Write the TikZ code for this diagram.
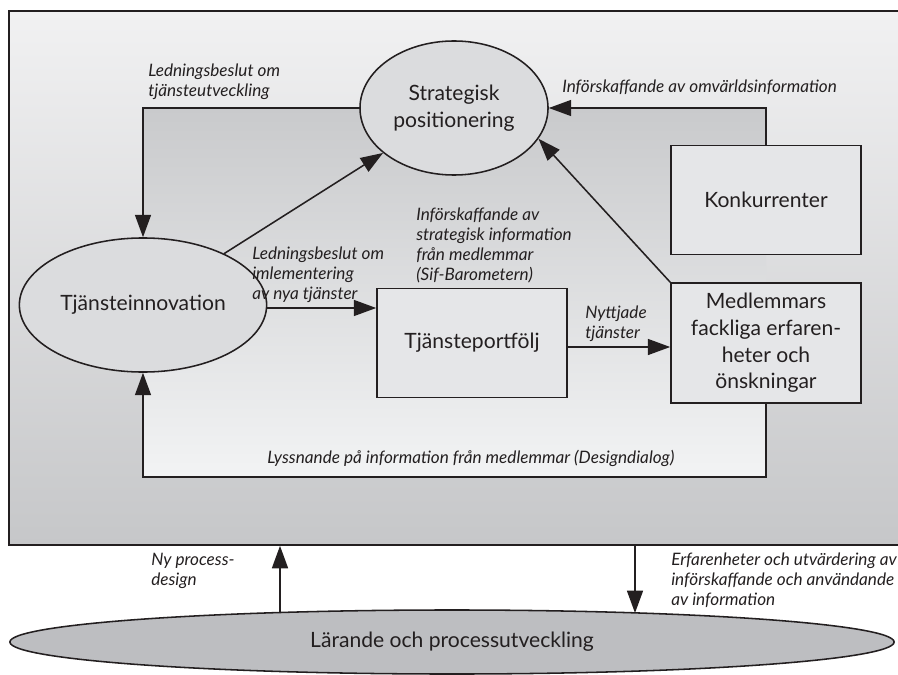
\documentclass[tikz,border=0pt]{standalone}
\usepackage{fontspec}
\setmainfont{Lato}
\usetikzlibrary{positioning, arrows.meta, backgrounds, calc, shapes.geometric}
\definecolor{frametop}{RGB}{241, 241, 242}
\definecolor{framebot}{RGB}{198, 199, 201}
\definecolor{looptop}{RGB}{201, 202, 204}
\definecolor{loopbot}{RGB}{242, 243, 244}
\definecolor{ellfill}{RGB}{219, 220, 222}
\definecolor{boxfill}{RGB}{229, 230, 232}
\definecolor{basefill}{RGB}{189, 190, 193}
\definecolor{ink}{RGB}{35, 31, 32}

\begin{document}
\begin{tikzpicture}[
    x=0.025cm, y=-0.025cm,
    >={Triangle[length=0.56cm, width=0.4cm]},
    % component styles
    procell/.style={ellipse, draw=ink, fill=ellfill, line width=1.1pt, minimum width=4.7cm, minimum height=3.35cm, align=center, text=ink, font=\fontsize{15}{19}\selectfont},
    procbox/.style={rectangle, draw=ink, fill=boxfill, line width=1.1pt, minimum width=4.75cm, minimum height=2.73cm, align=center, text=ink, font=\fontsize{15}{19}\selectfont},
    flowlabel/.style={anchor=north west, inner sep=0pt, align=left, text=ink, font=\itshape\fontsize{12.2}{14.2}\selectfont},
    arrow/.style={->, line width=1.1pt, draw=ink},
    line/.style={-, line width=1.1pt, draw=ink}
]

% loop edges of the inner cycle
\def\Lleft{143}
\def\Lright{766}
\def\Ltop{108}
\def\Lbot{476}

\useasboundingbox (0,0) rectangle (898,675);

% ==========================================
% 1. background frame and inner loop area
% ==========================================
\node[draw=ink, line width=1.1pt, top color=frametop, bottom color=framebot, minimum width=22.3cm, minimum height=13.35cm, inner sep=0pt] (frame) at (455,278) {};
\fill[top color=looptop, bottom color=loopbot] (\Lleft,\Ltop) rectangle (\Lright,\Lbot);

% ==========================================
% 2. main nodes
% ==========================================
\node[procell] (sp) at (454,\Ltop) {Strategisk\\positionering};
\node[procell] (ti) at (\Lleft,305) {Tjänsteinnovation};
\node[procbox] (tp) at (472,343) {Tjänsteportfölj};
\node[procbox] (kk) at (\Lright,200) {Konkurrenter};
\node[procbox, minimum height=3.0cm] (ml) at (\Lright,343) {Medlemmars\\fackliga erfaren-\\heter och\\önskningar};

% learning ellipse below the frame
\node[ellipse, draw=ink, line width=1.1pt, fill=basefill, minimum width=22.1cm, minimum height=1.6cm, text=ink, font=\fontsize{15}{19}\selectfont] (base) at (452,642) {Lärande och processutveckling};
\coordinate (npdfoot) at (280,612);
\coordinate (erfhead) at (635,613);

% ==========================================
% 3. connectors in the loop
% ==========================================
\draw[arrow] (sp.west) -| (ti.north);
\draw[arrow] (kk.north) |- (sp.east);
\draw[arrow] (ti) -- (sp);
\draw[arrow] (ml.north west) -- (sp.-20);
\draw[arrow] ($(ti.east)+(0,3)$) -- ($(ti.east -| tp.west)+(0,3)$);
\draw[arrow] ($(tp.east)+(0,4)$) -- ($(ml.west)+(0,4)$);
\draw[arrow] (ml.south) -- ++(0,73) -| (ti.south);

% connectors to and from the learning ellipse
\draw[arrow] (npdfoot) -- (npdfoot |- frame.south);
\draw[arrow] (erfhead |- frame.south) -- (erfhead);

% ==========================================
% 4. flow labels
% ==========================================
\node[flowlabel] (l_tu) at (148,64) {Ledningsbeslut om\\tjänsteutveckling};
\node[flowlabel] (l_omv) at (562,80) {Införskaffande av omvärldsinformation};
\node[flowlabel] (l_sif) at (416,208) {Införskaffande av\\strategisk information\\från medlemmar\\(Sif-Barometern)};
\node[flowlabel] (l_impl) at (252,247) {Ledningsbeslut om\\imlementering\\av nya tjänster};
\node[flowlabel] (l_nytt) at (585,306) {Nyttjade\\tjänster};
\node[flowlabel] (l_lyss) at (267,450) {Lyssnande på information från medlemmar (Designdialog)};
\node[flowlabel] (l_npd) at (151,553) {Ny process-\\design};
\node[flowlabel] (l_erf) at (671,553) {Erfarenheter och utvärdering av\\införskaffande och användande\\av information};

\end{tikzpicture}
\end{document}
